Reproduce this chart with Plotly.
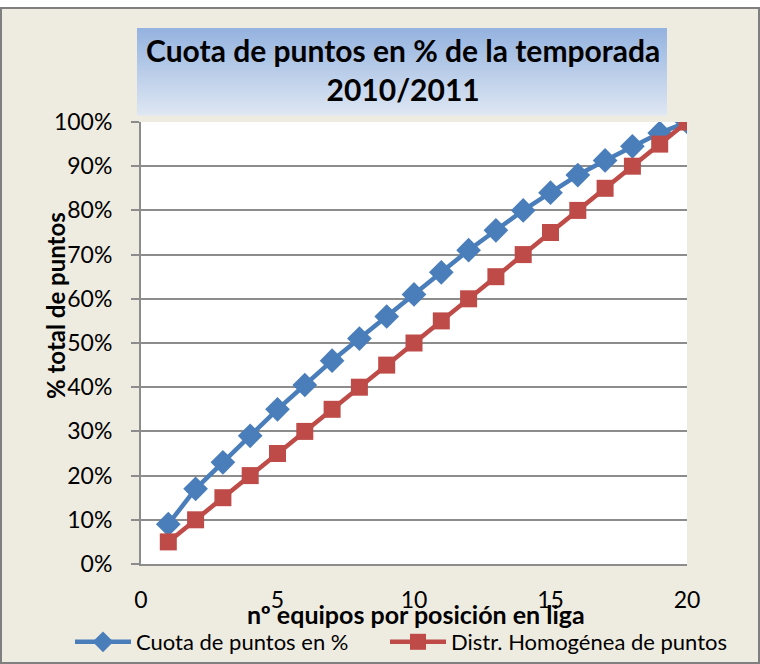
import plotly.graph_objects as go

# Data
equipos = list(range(1, 21))
cuota = [0.09, 0.17, 0.23, 0.29, 0.35, 0.405, 0.46, 0.51, 0.56, 0.61,
         0.66, 0.71, 0.755, 0.80, 0.84, 0.88, 0.913, 0.945, 0.975, 1.00]
homogenea = [0.05, 0.10, 0.15, 0.20, 0.25, 0.30, 0.35, 0.40, 0.45, 0.50,
             0.55, 0.60, 0.65, 0.70, 0.75, 0.80, 0.85, 0.90, 0.95, 1.00]
y_ticks = [0.0, 0.1, 0.2, 0.3, 0.4, 0.5, 0.6, 0.7, 0.8, 0.9, 1.0]
x_ticks = [0, 5, 10, 15, 20]

BLUE = "#4A7EBB"
RED = "#BE4B48"
BG = "#EEECE1"
GRID = "#8C8C8C"
FONT = "Lato, Open Sans, sans-serif"

# plot area in pixels
L, R, T, B = 141, 73, 122, 100
PW, PH = 760 - L - R, 664 - T - B


def px_x(v):
    return (v - L) / PW


def px_y(v):
    return (664 - B - v) / PH


fig = go.Figure()
fig.add_trace(go.Scatter(
    x=equipos, y=cuota, name="Cuota de puntos en %",
    mode="lines+markers",
    line=dict(color=BLUE, width=4.5),
    marker=dict(symbol="diamond", size=19, color=BLUE),
    legend="legend",
))
fig.add_trace(go.Scatter(
    x=equipos, y=homogenea, name="Distr. Homogénea de puntos",
    mode="lines+markers",
    line=dict(color=RED, width=4.5),
    marker=dict(symbol="square", size=17, color=RED),
    legend="legend2",
))

# white strip above the chart frame
fig.add_shape(type="rect", xref="paper", yref="paper",
              x0=px_x(0), x1=px_x(760), y0=px_y(8), y1=px_y(0),
              fillcolor="#FFFFFF", line_width=0, layer="below")

# title box with vertical gradient (top blue -> bottom pale), 1px strips
top = (149, 179, 224)
bot = (222, 231, 243)
box_top, box_bot = 28, 115
n = box_bot - box_top
for i in range(n):
    t = i / (n - 1)
    c = tuple(int(top[k] + (bot[k] - top[k]) * t) for k in range(3))
    fig.add_shape(
        type="rect", xref="paper", yref="paper",
        x0=px_x(137), x1=px_x(667),
        y0=px_y(box_top + i + 1.6), y1=px_y(box_top + i),
        fillcolor="rgb(%d,%d,%d)" % c, line_width=0, layer="below",
    )

fig.add_annotation(
    text="<b>Cuota de puntos en % de la temporada<br>2010/2011</b>",
    xref="paper", yref="paper", x=px_x(403), y=px_y(69),
    xanchor="center", yanchor="middle",
    showarrow=False, font=dict(family=FONT, size=30, color="#000000"),
    align="center",
)
fig.add_annotation(
    text="<b>% total de puntos</b>", textangle=-90,
    xref="paper", yref="paper", x=px_x(55), y=px_y(306),
    xanchor="center", yanchor="middle",
    showarrow=False, font=dict(family=FONT, size=24, color="#000000"),
)
fig.add_annotation(
    text="<b>nº equipos por posición en liga</b>",
    xref="paper", yref="paper", x=px_x(416), y=px_y(614),
    xanchor="center", yanchor="middle",
    showarrow=False, font=dict(family=FONT, size=25, color="#000000"),
)

legend_style = dict(
    orientation="h", yanchor="middle", xanchor="left",
    bgcolor="rgba(0,0,0,0)", font=dict(family=FONT, size=22, color="#000000"),
    itemwidth=56,
)

fig.update_layout(
    width=760, height=664,
    paper_bgcolor=BG, plot_bgcolor="#FFFFFF",
    font=dict(family=FONT, size=23, color="#000000"),
    margin=dict(l=L, r=R, t=T, b=B, autoexpand=False),
    showlegend=True,
    legend=dict(x=px_x(70), y=px_y(642), **legend_style),
    legend2=dict(x=px_x(385), y=px_y(642), **legend_style),
)
fig.update_xaxes(
    range=[0, 20], tickvals=x_ticks, showgrid=False, zeroline=False,
    showline=True, linecolor=GRID, linewidth=2, ticks="",
    ticklabelstandoff=14,
)
fig.update_yaxes(
    range=[0, 1], tickvals=y_ticks, tickformat=".0%",
    showgrid=True, gridcolor=GRID, gridwidth=2, zeroline=False,
    showline=True, linecolor=GRID, linewidth=2,
    ticks="outside", ticklen=8, tickcolor=GRID, tickwidth=2,
    ticklabelstandoff=14,
)

# outer frame
fig.add_shape(type="rect", xref="paper", yref="paper",
              x0=px_x(1), x1=px_x(759), y0=px_y(663), y1=px_y(8),
              line=dict(color="#7F7F7F", width=2), fillcolor="rgba(0,0,0,0)")

fig.write_html("out.html", config={"displayModeBar": False},
               post_script="document.body.style.margin='0';")
